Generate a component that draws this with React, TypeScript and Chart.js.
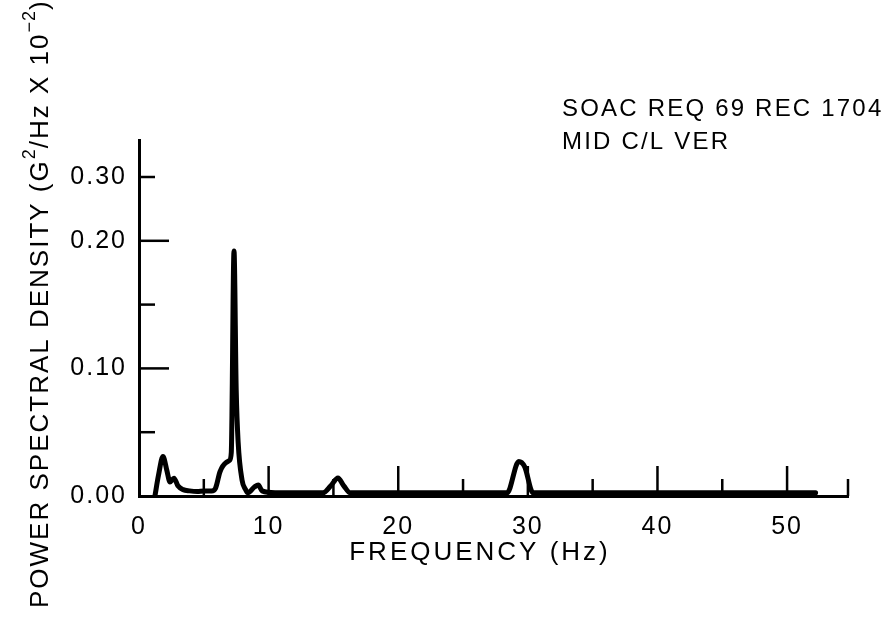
import React, { useEffect, useRef } from 'react';
import { Chart, registerables } from 'chart.js';

Chart.register(...registerables);

// ---- data ----
const freqHz = [
  1.23, 1.5, 1.85, 2.15, 2.39, 2.7, 3.0, 3.4, 3.9, 4.5, 5.0, 5.6, 5.9, 6.25, 6.7, 7.0,
  7.12, 7.33, 7.5, 7.65, 7.95, 8.2, 8.4, 8.9, 9.2, 9.5, 10.5, 12.0, 14.2, 14.8, 15.35,
  15.8, 16.3, 18.0, 21.0, 24.0, 27.0, 28.4, 29.3, 29.75, 30.4, 33.0, 36.0, 40.0, 44.0,
  48.0, 52.2,
];
const psd = [
  0.0, 0.016, 0.031, 0.02, 0.011, 0.014, 0.008, 0.005, 0.004, 0.0035, 0.004, 0.004, 0.006,
  0.019, 0.026, 0.028, 0.034, 0.192, 0.083, 0.042, 0.0125, 0.0055, 0.0025, 0.007, 0.0086,
  0.004, 0.0025, 0.0025, 0.0025, 0.008, 0.0141, 0.008, 0.0025, 0.0025, 0.0025, 0.0025,
  0.0025, 0.0025, 0.027, 0.023, 0.0025, 0.0025, 0.0025, 0.0025, 0.0025, 0.0025, 0.0025,
];

const xTickValues = [0, 5, 10, 15, 20, 25, 30, 35, 40, 45, 50];
const xTickLabels = ['0', '', '10', '', '20', '', '30', '', '40', '', '50'];
const yTickValues = [0, 0.05, 0.1, 0.15, 0.2, 0.25];
const yTickLabels = ['0.00', '', '0.10', '', '0.20', '0.30'];

const annotationLines = ['SOAC REQ 69 REC 1704', 'MID C/L VER'];
const xTitle = 'FREQUENCY (Hz)';
const yTitleParts: { t: string; sup: boolean }[] = [
  { t: 'POWER SPECTRAL DENSITY (G', sup: false },
  { t: '2', sup: true },
  { t: '/Hz X 10', sup: false },
  { t: '\u22122', sup: true },
  { t: ')', sup: false },
];

const FONT = "'Liberation Sans', Arial, Helvetica, sans-serif";

const decorPlugin = {
  id: 'decor',
  beforeDraw(chart: any) {
    (chart.ctx as any).letterSpacing = '2px';
  },
  afterDraw(chart: any) {
    const ctx = chart.ctx as CanvasRenderingContext2D;
    const xs = chart.scales.x;
    const ys = chart.scales.y;
    const area = chart.chartArea;
    ctx.save();
    ctx.strokeStyle = '#000';
    ctx.lineWidth = 2.5;
    ctx.lineCap = 'butt';
    // inward y ticks
    yTickValues.forEach((v, i) => {
      if (v === 0) return;
      const py = ys.getPixelForValue(v);
      const len = yTickLabels[i] && v !== 0.25 ? 30 : 16;
      ctx.beginPath();
      ctx.moveTo(area.left, py);
      ctx.lineTo(area.left + len, py);
      ctx.stroke();
    });
    // inward x ticks
    const xt = [...xTickValues.filter((v) => v !== 0), xs.max];
    xt.forEach((v) => {
      const px = xs.getPixelForValue(v);
      const major = v % 10 === 0;
      const len = major ? 30 : 17;
      ctx.beginPath();
      ctx.moveTo(px, area.bottom);
      ctx.lineTo(px, area.bottom - len);
      ctx.stroke();
    });

    ctx.fillStyle = '#000';
    (ctx as any).letterSpacing = '2.2px';
    ctx.font = `24px ${FONT}`;
    ctx.textAlign = 'left';
    ctx.textBaseline = 'alphabetic';
    ctx.fillText(annotationLines[0], 562, 116);
    ctx.fillText(annotationLines[1], 562, 149);

    // x title
    (ctx as any).letterSpacing = '3px';
    ctx.font = `26px ${FONT}`;
    ctx.textAlign = 'center';
    ctx.fillText(xTitle, 480, 560);

    // y title (rotated)
    ctx.translate(48, 608);
    ctx.rotate(-Math.PI / 2);
    ctx.textAlign = 'left';
    let cx = 0;
    yTitleParts.forEach((p) => {
      ctx.font = p.sup ? `18px ${FONT}` : `26px ${FONT}`;
      (ctx as any).letterSpacing = p.sup ? '1px' : '2px';
      ctx.fillText(p.t, cx, p.sup ? -13 : 0);
      cx += ctx.measureText(p.t).width;
    });
    ctx.restore();
  },
};

export default function App() {
  const ref = useRef<HTMLCanvasElement>(null);
  useEffect(() => {
    if (!ref.current) return;
    const chart = new Chart(ref.current, {
      type: 'line',
      data: {
        datasets: [
          {
            data: freqHz.map((f, i) => ({ x: f, y: psd[i] })),
            borderColor: '#000',
            borderWidth: 5,
            pointRadius: 0,
            fill: false,
            cubicInterpolationMode: 'monotone',
            borderJoinStyle: 'round',
            borderCapStyle: 'round',
          },
        ],
      },
      options: {
        animation: false,
        responsive: false,
        devicePixelRatio: 1,
        layout: { padding: { top: 140, right: 43, left: 0, bottom: 0 } },
        plugins: { legend: { display: false }, tooltip: { enabled: false }, title: { display: false } },
        scales: {
          x: {
            type: 'linear',
            min: 0,
            max: 54.7,
            grid: { display: false, drawTicks: false },
            border: { display: true, color: '#000', width: 3 },
            afterBuildTicks: (s: any) => {
              s.ticks = xTickValues.map((v) => ({ value: v }));
            },
            afterFit: (s: any) => {
              s.height = 125;
            },
            ticks: {
              autoSkip: false,
              maxRotation: 0,
              padding: 16,
              color: '#000',
              font: { family: FONT, size: 25 },
              callback: (_v: any, i: number) => xTickLabels[i],
            },
          },
          y: {
            type: 'linear',
            min: 0,
            max: 0.279,
            grid: { display: false, drawTicks: false },
            border: { display: true, color: '#000', width: 3 },
            afterBuildTicks: (s: any) => {
              s.ticks = yTickValues.map((v) => ({ value: v }));
            },
            afterFit: (s: any) => {
              s.width = 139;
            },
            ticks: {
              autoSkip: false,
              padding: 12,
              color: '#000',
              font: { family: FONT, size: 25 },
              callback: (_v: any, i: number) => yTickLabels[i],
            },
          },
        },
      },
      plugins: [decorPlugin],
    } as any);
    return () => chart.destroy();
  }, []);
  return (
    <div style={{ position: 'absolute', left: 0, top: 0, width: 891, height: 621, background: '#fff' }}>
      <canvas ref={ref} width={891} height={621} style={{ display: 'block' }} />
    </div>
  );
}
